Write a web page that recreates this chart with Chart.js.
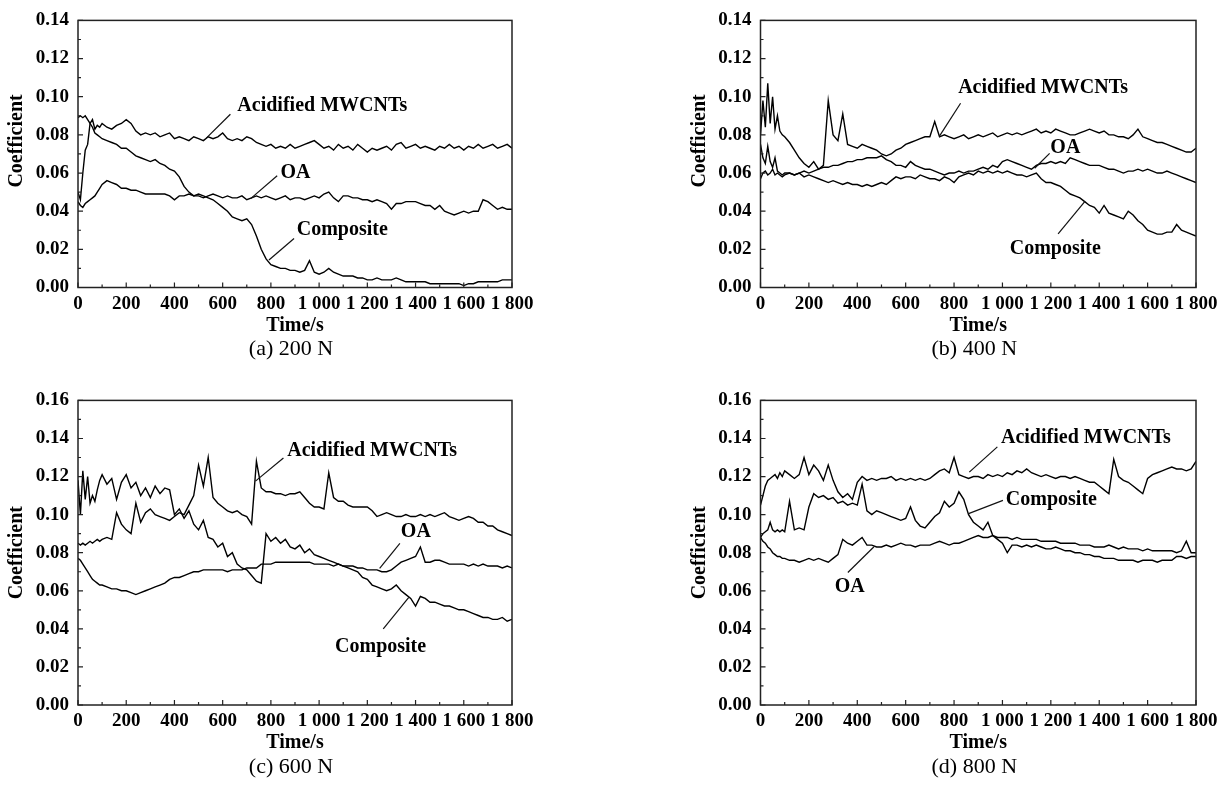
<!DOCTYPE html>
<html lang="en">
<head>
    <meta charset="UTF-8">
    <title>Friction coefficient vs time</title>
    <script src="https://cdn.jsdelivr.net/npm/chart.js"></script>
    <style>
        body { margin: 0; background: #fff; width: 1228px; height: 798px; position: relative; overflow: hidden; }
        .panel { position: absolute; }
    </style>
</head>
<body>

<div class="panel" style="left:0;top:0;width:614px;height:380px"><canvas id="chartA"></canvas></div>
<div class="panel" style="left:614px;top:0;width:614px;height:380px"><canvas id="chartB"></canvas></div>
<div class="panel" style="left:0;top:380px;width:614px;height:418px"><canvas id="chartC"></canvas></div>
<div class="panel" style="left:614px;top:380px;width:614px;height:418px"><canvas id="chartD"></canvas></div>

<script>
// Sampling times (s), shared by all curves
const times = [0,10,20,30,40,50,60,70,80,90,100,
    120,140,160,180,200,220,240,260,280,300,
    320,340,360,380,400,420,440,460,480,500,
    520,540,560,580,600,620,640,660,680,700,
    720,740,760,780,800,820,840,860,880,900,
    920,940,960,980,1000,1020,1040,1060,1080,1100,
    1120,1140,1160,1180,1200,1220,1240,1260,1280,1300,
    1320,1340,1360,1380,1400,1420,1440,1460,1480,1500,
    1520,1540,1560,1580,1600,1620,1640,1660,1680,1700,
    1720,1740,1760,1780,1800];

// (a) 200 N
const acidA = [0.050,0.046,0.060,0.072,0.075,0.086,0.088,0.083,0.085,0.084,0.086,
    0.084,0.083,0.085,0.086,0.088,0.086,0.082,0.080,0.081,0.080,
    0.081,0.079,0.080,0.081,0.078,0.079,0.078,0.077,0.079,0.078,
    0.077,0.079,0.078,0.079,0.081,0.078,0.077,0.078,0.077,0.079,
    0.078,0.076,0.075,0.074,0.075,0.073,0.074,0.073,0.075,0.073,
    0.074,0.075,0.076,0.077,0.075,0.073,0.074,0.072,0.075,0.073,
    0.074,0.072,0.075,0.073,0.071,0.073,0.072,0.073,0.074,0.072,
    0.075,0.076,0.073,0.074,0.075,0.073,0.074,0.073,0.072,0.074,
    0.073,0.075,0.073,0.074,0.072,0.074,0.073,0.075,0.073,0.074,
    0.075,0.073,0.074,0.075,0.073];
const oaA = [0.045,0.043,0.042,0.044,0.045,0.046,0.047,0.048,0.050,0.052,0.054,
    0.056,0.055,0.054,0.052,0.052,0.051,0.051,0.050,0.049,0.049,
    0.049,0.049,0.049,0.048,0.046,0.048,0.048,0.049,0.048,0.048,
    0.047,0.048,0.049,0.048,0.047,0.048,0.047,0.047,0.048,0.046,
    0.047,0.048,0.047,0.048,0.047,0.046,0.047,0.048,0.046,0.047,
    0.047,0.046,0.047,0.048,0.047,0.049,0.050,0.047,0.045,0.048,
    0.048,0.047,0.047,0.046,0.046,0.045,0.046,0.045,0.044,0.041,
    0.044,0.044,0.045,0.045,0.045,0.044,0.043,0.043,0.041,0.043,
    0.040,0.039,0.038,0.039,0.040,0.039,0.040,0.040,0.046,0.045,
    0.043,0.041,0.042,0.041,0.041];
const compA = [0.089,0.090,0.089,0.090,0.088,0.086,0.084,0.081,0.080,0.079,0.078,
    0.077,0.076,0.075,0.073,0.073,0.071,0.069,0.068,0.067,0.066,
    0.067,0.065,0.064,0.062,0.061,0.058,0.053,0.050,0.048,0.049,
    0.048,0.047,0.046,0.044,0.042,0.040,0.037,0.036,0.035,0.036,
    0.033,0.027,0.020,0.015,0.012,0.011,0.010,0.010,0.009,0.009,
    0.008,0.009,0.014,0.008,0.007,0.008,0.010,0.008,0.007,0.006,
    0.006,0.006,0.005,0.005,0.004,0.004,0.005,0.004,0.004,0.004,
    0.005,0.004,0.003,0.003,0.003,0.003,0.003,0.002,0.002,0.002,
    0.002,0.002,0.002,0.002,0.001,0.002,0.002,0.003,0.003,0.003,
    0.003,0.003,0.004,0.004,0.004];

// (b) 400 N
const acidB = [0.080,0.098,0.084,0.107,0.086,0.100,0.083,0.090,0.082,0.080,0.079,
    0.076,0.072,0.068,0.065,0.063,0.066,0.062,0.064,0.098,0.080,
    0.077,0.091,0.075,0.074,0.073,0.075,0.074,0.073,0.072,0.070,
    0.069,0.070,0.072,0.073,0.075,0.076,0.077,0.078,0.079,0.079,
    0.087,0.079,0.080,0.079,0.078,0.079,0.080,0.078,0.079,0.080,
    0.079,0.080,0.081,0.079,0.080,0.081,0.080,0.081,0.080,0.081,
    0.082,0.083,0.081,0.082,0.081,0.083,0.082,0.081,0.080,0.080,
    0.081,0.082,0.083,0.082,0.081,0.082,0.080,0.080,0.079,0.079,
    0.078,0.080,0.083,0.079,0.078,0.077,0.076,0.076,0.075,0.074,
    0.073,0.072,0.071,0.071,0.073];
const oaB = [0.075,0.068,0.065,0.074,0.066,0.063,0.068,0.061,0.060,0.059,0.060,
    0.060,0.059,0.060,0.061,0.060,0.061,0.062,0.063,0.063,0.064,
    0.064,0.065,0.066,0.066,0.067,0.067,0.068,0.068,0.068,0.069,
    0.067,0.066,0.064,0.064,0.063,0.066,0.064,0.063,0.062,0.062,
    0.061,0.060,0.059,0.060,0.060,0.061,0.060,0.061,0.061,0.062,
    0.063,0.062,0.064,0.063,0.066,0.067,0.066,0.065,0.064,0.063,
    0.062,0.064,0.065,0.065,0.066,0.065,0.066,0.065,0.068,0.067,
    0.066,0.065,0.064,0.064,0.064,0.063,0.062,0.062,0.061,0.060,
    0.061,0.061,0.062,0.061,0.062,0.061,0.060,0.060,0.061,0.060,
    0.059,0.058,0.057,0.056,0.055];
const compB = [0.057,0.060,0.061,0.059,0.060,0.062,0.059,0.060,0.059,0.058,0.059,
    0.060,0.059,0.060,0.058,0.059,0.058,0.057,0.056,0.055,0.056,
    0.055,0.054,0.055,0.054,0.054,0.053,0.054,0.053,0.054,0.055,
    0.054,0.056,0.058,0.057,0.058,0.058,0.057,0.059,0.058,0.057,
    0.057,0.056,0.058,0.057,0.055,0.058,0.059,0.060,0.059,0.061,
    0.060,0.061,0.060,0.061,0.060,0.061,0.060,0.059,0.059,0.058,
    0.059,0.060,0.057,0.055,0.055,0.054,0.053,0.051,0.049,0.048,
    0.047,0.045,0.043,0.042,0.039,0.043,0.039,0.038,0.037,0.036,
    0.040,0.038,0.035,0.033,0.030,0.029,0.028,0.028,0.029,0.029,
    0.033,0.030,0.029,0.028,0.027];

// (c) 600 N
const acidC = [0.085,0.084,0.085,0.084,0.085,0.086,0.085,0.086,0.087,0.086,0.087,
    0.088,0.087,0.101,0.095,0.092,0.090,0.106,0.096,0.101,0.103,
    0.100,0.099,0.098,0.097,0.099,0.101,0.100,0.105,0.110,0.126,
    0.115,0.130,0.109,0.106,0.104,0.102,0.101,0.102,0.100,0.099,
    0.095,0.128,0.114,0.112,0.112,0.111,0.111,0.110,0.111,0.111,
    0.112,0.109,0.106,0.104,0.104,0.103,0.122,0.109,0.107,0.107,
    0.105,0.104,0.104,0.104,0.104,0.102,0.099,0.100,0.101,0.100,
    0.099,0.099,0.100,0.099,0.099,0.100,0.099,0.100,0.099,0.100,
    0.101,0.099,0.098,0.097,0.098,0.099,0.098,0.096,0.096,0.094,
    0.094,0.092,0.091,0.090,0.089];
const oaC = [0.077,0.076,0.074,0.072,0.070,0.068,0.066,0.065,0.064,0.063,0.063,
    0.062,0.061,0.061,0.060,0.060,0.059,0.058,0.059,0.060,0.061,
    0.062,0.063,0.064,0.066,0.067,0.067,0.068,0.069,0.070,0.070,
    0.071,0.071,0.071,0.071,0.071,0.070,0.071,0.071,0.071,0.072,
    0.072,0.072,0.074,0.074,0.074,0.075,0.075,0.075,0.075,0.075,
    0.075,0.075,0.075,0.074,0.074,0.074,0.074,0.073,0.074,0.073,
    0.073,0.073,0.072,0.072,0.071,0.071,0.071,0.070,0.070,0.071,
    0.073,0.075,0.076,0.077,0.078,0.083,0.075,0.075,0.076,0.076,
    0.075,0.074,0.074,0.074,0.074,0.073,0.074,0.073,0.074,0.073,
    0.073,0.073,0.072,0.073,0.072];
const compC = [0.118,0.100,0.123,0.108,0.120,0.106,0.110,0.107,0.113,0.118,0.121,
    0.116,0.119,0.108,0.117,0.121,0.114,0.117,0.110,0.114,0.109,
    0.115,0.111,0.114,0.113,0.100,0.103,0.098,0.102,0.095,0.092,
    0.097,0.088,0.087,0.083,0.085,0.078,0.080,0.074,0.072,0.071,
    0.068,0.065,0.064,0.090,0.086,0.088,0.085,0.087,0.083,0.082,
    0.084,0.080,0.082,0.079,0.078,0.077,0.076,0.075,0.074,0.073,
    0.072,0.071,0.070,0.067,0.066,0.063,0.062,0.061,0.060,0.061,
    0.063,0.060,0.058,0.056,0.052,0.057,0.056,0.054,0.054,0.053,
    0.052,0.052,0.051,0.050,0.050,0.049,0.048,0.047,0.046,0.046,
    0.045,0.045,0.046,0.044,0.045];

// (d) 800 N
const acidD = [0.105,0.110,0.115,0.118,0.119,0.120,0.121,0.119,0.122,0.120,0.123,
    0.121,0.119,0.121,0.130,0.121,0.126,0.123,0.118,0.126,0.118,
    0.112,0.109,0.111,0.108,0.117,0.120,0.118,0.119,0.118,0.119,
    0.119,0.120,0.118,0.119,0.118,0.119,0.118,0.119,0.118,0.119,
    0.121,0.123,0.124,0.122,0.130,0.121,0.120,0.119,0.120,0.120,
    0.119,0.121,0.120,0.121,0.120,0.122,0.121,0.123,0.122,0.124,
    0.122,0.121,0.120,0.121,0.120,0.119,0.120,0.120,0.119,0.120,
    0.119,0.118,0.117,0.117,0.115,0.113,0.111,0.129,0.120,0.118,
    0.117,0.115,0.113,0.111,0.119,0.121,0.122,0.123,0.124,0.125,
    0.124,0.124,0.123,0.124,0.128];
const oaD = [0.088,0.086,0.085,0.083,0.082,0.080,0.079,0.078,0.078,0.077,0.077,
    0.076,0.076,0.075,0.076,0.077,0.076,0.077,0.076,0.075,0.077,
    0.079,0.087,0.085,0.084,0.086,0.088,0.084,0.084,0.083,0.083,
    0.084,0.083,0.084,0.085,0.084,0.084,0.083,0.084,0.084,0.084,
    0.085,0.086,0.085,0.084,0.085,0.085,0.086,0.087,0.088,0.089,
    0.088,0.088,0.089,0.088,0.088,0.088,0.087,0.088,0.087,0.087,
    0.087,0.087,0.086,0.086,0.086,0.086,0.085,0.085,0.085,0.085,
    0.084,0.084,0.084,0.083,0.083,0.083,0.084,0.083,0.082,0.083,
    0.082,0.082,0.082,0.081,0.082,0.081,0.081,0.081,0.081,0.081,
    0.080,0.081,0.086,0.080,0.080];
const compD = [0.088,0.090,0.091,0.092,0.096,0.092,0.091,0.092,0.091,0.092,0.091,
    0.107,0.092,0.093,0.092,0.104,0.111,0.109,0.110,0.108,0.109,
    0.106,0.107,0.105,0.106,0.105,0.116,0.102,0.100,0.102,0.101,
    0.100,0.099,0.098,0.097,0.098,0.104,0.097,0.094,0.093,0.096,
    0.099,0.101,0.107,0.104,0.106,0.112,0.108,0.100,0.096,0.094,
    0.092,0.096,0.089,0.087,0.085,0.080,0.084,0.084,0.083,0.084,
    0.083,0.084,0.083,0.082,0.082,0.083,0.082,0.081,0.081,0.080,
    0.080,0.079,0.079,0.078,0.078,0.077,0.077,0.077,0.076,0.076,
    0.076,0.076,0.075,0.076,0.076,0.076,0.075,0.076,0.076,0.076,
    0.078,0.078,0.077,0.078,0.078];

const FONT = '"Liberation Serif", "Times New Roman", serif';
Chart.defaults.font.family = FONT;
Chart.defaults.color = '#000';

// Format "1000" as "1 000"
function fmtTime(v) {
    if (v >= 1000) return Math.floor(v / 1000) + ' ' + String(v % 1000).padStart(3, '0');
    return String(v);
}

// Frame, inward ticks, axis titles, caption and callout labels
const decorPlugin = {
    id: 'decor',
    afterDraw(chart, args, o) {
        const ctx = chart.ctx, a = chart.chartArea;
        const xs = chart.scales.x, ys = chart.scales.y;
        ctx.save();
        ctx.strokeStyle = '#222';
        ctx.lineWidth = 1.5;
        ctx.strokeRect(a.left, a.top, a.right - a.left, a.bottom - a.top);

        ctx.lineWidth = 1.2;
        ctx.beginPath();
        for (let t = 0; t <= 1800; t += 100) {
            const px = xs.getPixelForValue(t);
            const len = t % 200 === 0 ? 5 : 3;
            ctx.moveTo(px, a.bottom);
            ctx.lineTo(px, a.bottom - len);
        }
        for (let k = 0; k <= Math.round(o.yMax * 100); k++) {
            const py = ys.getPixelForValue(k / 100);
            const len = k % 2 === 0 ? 5 : 3;
            ctx.moveTo(a.left, py);
            ctx.lineTo(a.left + len, py);
        }
        ctx.stroke();

        ctx.fillStyle = '#000';
        ctx.textAlign = 'center';
        ctx.textBaseline = 'middle';
        const cx = (a.left + a.right) / 2;
        ctx.font = 'bold 20px ' + FONT;
        ctx.fillText('Time/s', cx, a.bottom + 38);
        ctx.font = '22px ' + FONT;
        ctx.fillText(o.caption, cx - 4, a.bottom + 62);

        ctx.save();
        ctx.translate(a.left - 61, (a.top + a.bottom) / 2 + o.yTitleShift);
        ctx.rotate(-Math.PI / 2);
        ctx.font = 'bold 20px ' + FONT;
        ctx.fillText('Coefficient', 0, 0);
        ctx.restore();

        // callouts
        ctx.font = 'bold 20px ' + FONT;
        ctx.textAlign = 'left';
        ctx.lineWidth = 1.2;
        ctx.strokeStyle = '#111';
        o.notes.forEach(n => {
            ctx.beginPath();
            ctx.moveTo(xs.getPixelForValue(n.x1), ys.getPixelForValue(n.y1));
            ctx.lineTo(xs.getPixelForValue(n.x2), ys.getPixelForValue(n.y2));
            ctx.stroke();
            ctx.fillText(n.text, xs.getPixelForValue(n.tx), ys.getPixelForValue(n.ty));
        });
        ctx.restore();
    }
};

function toPoints(vals) {
    return times.map((t, i) => ({ x: t, y: vals[i] }));
}

function makeChart(id, series, yMax, box, caption, yTitleShift, notes) {
    const canvas = document.getElementById(id);
    const W = canvas.parentNode.clientWidth, H = canvas.parentNode.clientHeight;
    const yAxisW = 78, xAxisH = 50;
    return new Chart(canvas, {
        type: 'line',
        data: {
            datasets: series.map(s => ({
                data: toPoints(s),
                borderColor: '#000',
                borderWidth: 1.4,
                pointRadius: 0,
                tension: 0,
                fill: false
            }))
        },
        options: {
            responsive: true,
            maintainAspectRatio: false,
            animation: false,
            events: [],
            layout: {
                padding: { left: box.left - yAxisW, top: box.top, right: W - box.right, bottom: H - box.bottom - xAxisH }
            },
            plugins: {
                legend: { display: false },
                tooltip: { enabled: false },
                decor: { yMax: yMax, caption: caption, yTitleShift: yTitleShift, notes: notes }
            },
            scales: {
                x: {
                    type: 'linear', min: 0, max: 1800,
                    grid: { display: false, drawTicks: false },
                    border: { display: false },
                    ticks: { stepSize: 200, autoSkip: false, maxRotation: 0, padding: 5,
                        font: { size: 19, weight: 'bold' }, callback: v => fmtTime(v) },
                    afterFit: s => { s.height = xAxisH; }
                },
                y: {
                    min: 0, max: yMax,
                    grid: { display: false, drawTicks: false },
                    border: { display: false },
                    ticks: { stepSize: 0.02, padding: 9,
                        font: { size: 19, weight: 'bold' }, callback: v => v.toFixed(2) },
                    afterFit: s => { s.width = yAxisW; }
                }
            }
        },
        plugins: [decorPlugin]
    });
}

makeChart('chartA', [acidA, oaA, compA], 0.14, { left: 78, top: 15, right: 512, bottom: 287.5 }, '(a) 200 N', -13, [
    { text: 'Acidified MWCNTs', tx: 661, ty: 0.0954, x1: 632, y1: 0.0908, x2: 532, y2: 0.0783 },
    { text: 'OA', tx: 840, ty: 0.0603, x1: 826, y1: 0.0586, x2: 716, y2: 0.0466 },
    { text: 'Composite', tx: 907, ty: 0.0303, x1: 896, y1: 0.0257, x2: 792, y2: 0.0144 }
]);
makeChart('chartB', [acidB, oaB, compB], 0.14, { left: 146.5, top: 15, right: 582, bottom: 287.5 }, '(b) 400 N', -13, [
    { text: 'Acidified MWCNTs', tx: 817, ty: 0.1047, x1: 827, y1: 0.0966, x2: 739, y2: 0.0792 },
    { text: 'OA', tx: 1198, ty: 0.0730, x1: 1195, y1: 0.0703, x2: 1133, y2: 0.0625 },
    { text: 'Composite', tx: 1030, ty: 0.0204, x1: 1230, y1: 0.0281, x2: 1341, y2: 0.0452 }
]);
makeChart('chartC', [acidC, oaC, compC], 0.16, { left: 78, top: 17.5, right: 512, bottom: 325 }, '(c) 600 N', 0, [
    { text: 'Acidified MWCNTs', tx: 868, ty: 0.1336, x1: 852, y1: 0.1297, x2: 736, y2: 0.1176 },
    { text: 'OA', tx: 1339, ty: 0.0910, x1: 1335, y1: 0.0849, x2: 1251, y2: 0.0718 },
    { text: 'Composite', tx: 1066, ty: 0.0306, x1: 1266, y1: 0.0400, x2: 1372, y2: 0.0565 }
]);
makeChart('chartD', [acidD, oaD, compD], 0.16, { left: 146.5, top: 17.5, right: 582, bottom: 325 }, '(d) 800 N', 0, [
    { text: 'Acidified MWCNTs', tx: 994, ty: 0.1405, x1: 979, y1: 0.1356, x2: 863, y2: 0.1223 },
    { text: 'Composite', tx: 1014, ty: 0.1077, x1: 1002, y1: 0.1075, x2: 860, y2: 0.1005 },
    { text: 'OA', tx: 307, ty: 0.0621, x1: 361, y1: 0.0696, x2: 469, y2: 0.0831 }
]);
</script>
</body>
</html>
